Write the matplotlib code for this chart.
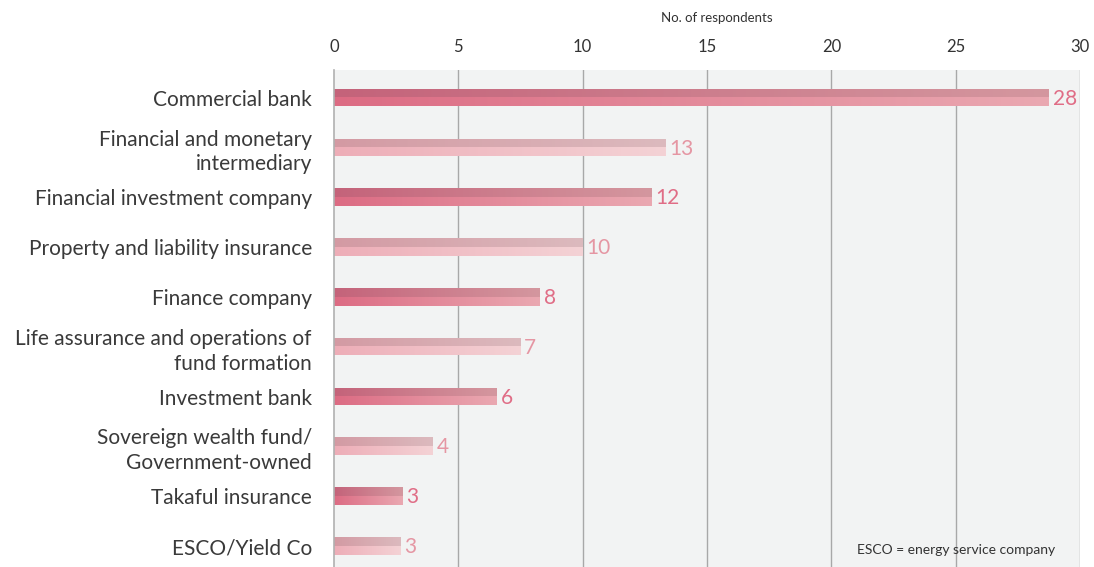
import numpy as np
import matplotlib
matplotlib.use("Agg")
import matplotlib.pyplot as plt
from matplotlib.colors import LinearSegmentedColormap

plt.rcParams['font.family'] = ['Lato', 'DejaVu Sans']

categories = [
    "Commercial bank",
    "Financial and monetary\nintermediary",
    "Financial investment company",
    "Property and liability insurance",
    "Finance company",
    "Life assurance and operations of\nfund formation",
    "Investment bank",
    "Sovereign wealth fund/\nGovernment-owned",
    "Takaful insurance",
    "ESCO/Yield Co",
]
# bar lengths as drawn in the picture
bar_lengths = [28.75, 13.35, 12.75, 10.0, 8.28, 7.5, 6.55, 3.98, 2.77, 2.69]
# printed labels
value_labels = [28, 13, 12, 10, 8, 7, 6, 4, 3, 3]
xticks = [0, 5, 10, 15, 20, 25, 30]

dark_top = LinearSegmentedColormap.from_list("dt", ["#c4637a", "#d4979f"])
dark_bot = LinearSegmentedColormap.from_list("db", ["#dc6b83", "#eaa8b1"])
light_top = LinearSegmentedColormap.from_list("lt", ["#d39aa3", "#dcbabe"])
light_bot = LinearSegmentedColormap.from_list("lb", ["#edadb7", "#f4d2d5"])

fig = plt.figure(figsize=(10.94, 5.67), dpi=100)
ax = fig.add_axes([334/1094, 0.0, (1080-334)/1094, 1-70/567])
ax.set_facecolor("#f2f3f3")

for x in xticks[1:]:
    ax.axvline(x, color="#a8a8a8", lw=1.0, zorder=1)

h = 0.34
grad = np.linspace(0, 1, 256).reshape(1, -1)
for i, (L, lab) in enumerate(zip(bar_lengths, value_labels)):
    dark = (i % 2 == 0)
    ct, cb = (dark_top, dark_bot) if dark else (light_top, light_bot)
    ax.imshow(grad, cmap=ct, aspect="auto", extent=(0, L, i, i - h/2), zorder=2, interpolation="bilinear")
    ax.imshow(grad, cmap=cb, aspect="auto", extent=(0, L, i + h/2, i), zorder=2, interpolation="bilinear")
    ax.text(L + 0.15, i + 0.02, str(lab), va="center", ha="left", fontsize=15,
            color="#e06d86" if dark else "#e596a3", zorder=4)

ax.set_xlim(0, 30)
ax.set_ylim(9.42, -0.56)

ax.xaxis.tick_top()
ax.set_xticks(xticks)
ax.set_xticklabels([str(t) for t in xticks], fontsize=12, color="#333333")
ax.tick_params(axis="x", length=0, pad=11)
ax.set_yticks(range(len(categories)))
ax.set_yticklabels(categories, fontsize=15, color="#3a3a3a", linespacing=1.3)
ax.tick_params(axis="y", length=0, pad=16)

for s in ["top", "right", "bottom"]:
    ax.spines[s].set_visible(False)
ax.spines["left"].set_color("#b0b0b0")
ax.spines["left"].set_linewidth(1.2)

fig.text(717/1094, 1 - 18/567, "No. of respondents",
         ha="center", va="center", fontsize=9.5, color="#333333")
ax.text(0.9665, 0.035, "ESCO = energy service company", transform=ax.transAxes,
        ha="right", va="center", fontsize=10, color="#333333")

fig.savefig("out.png", dpi=100)
